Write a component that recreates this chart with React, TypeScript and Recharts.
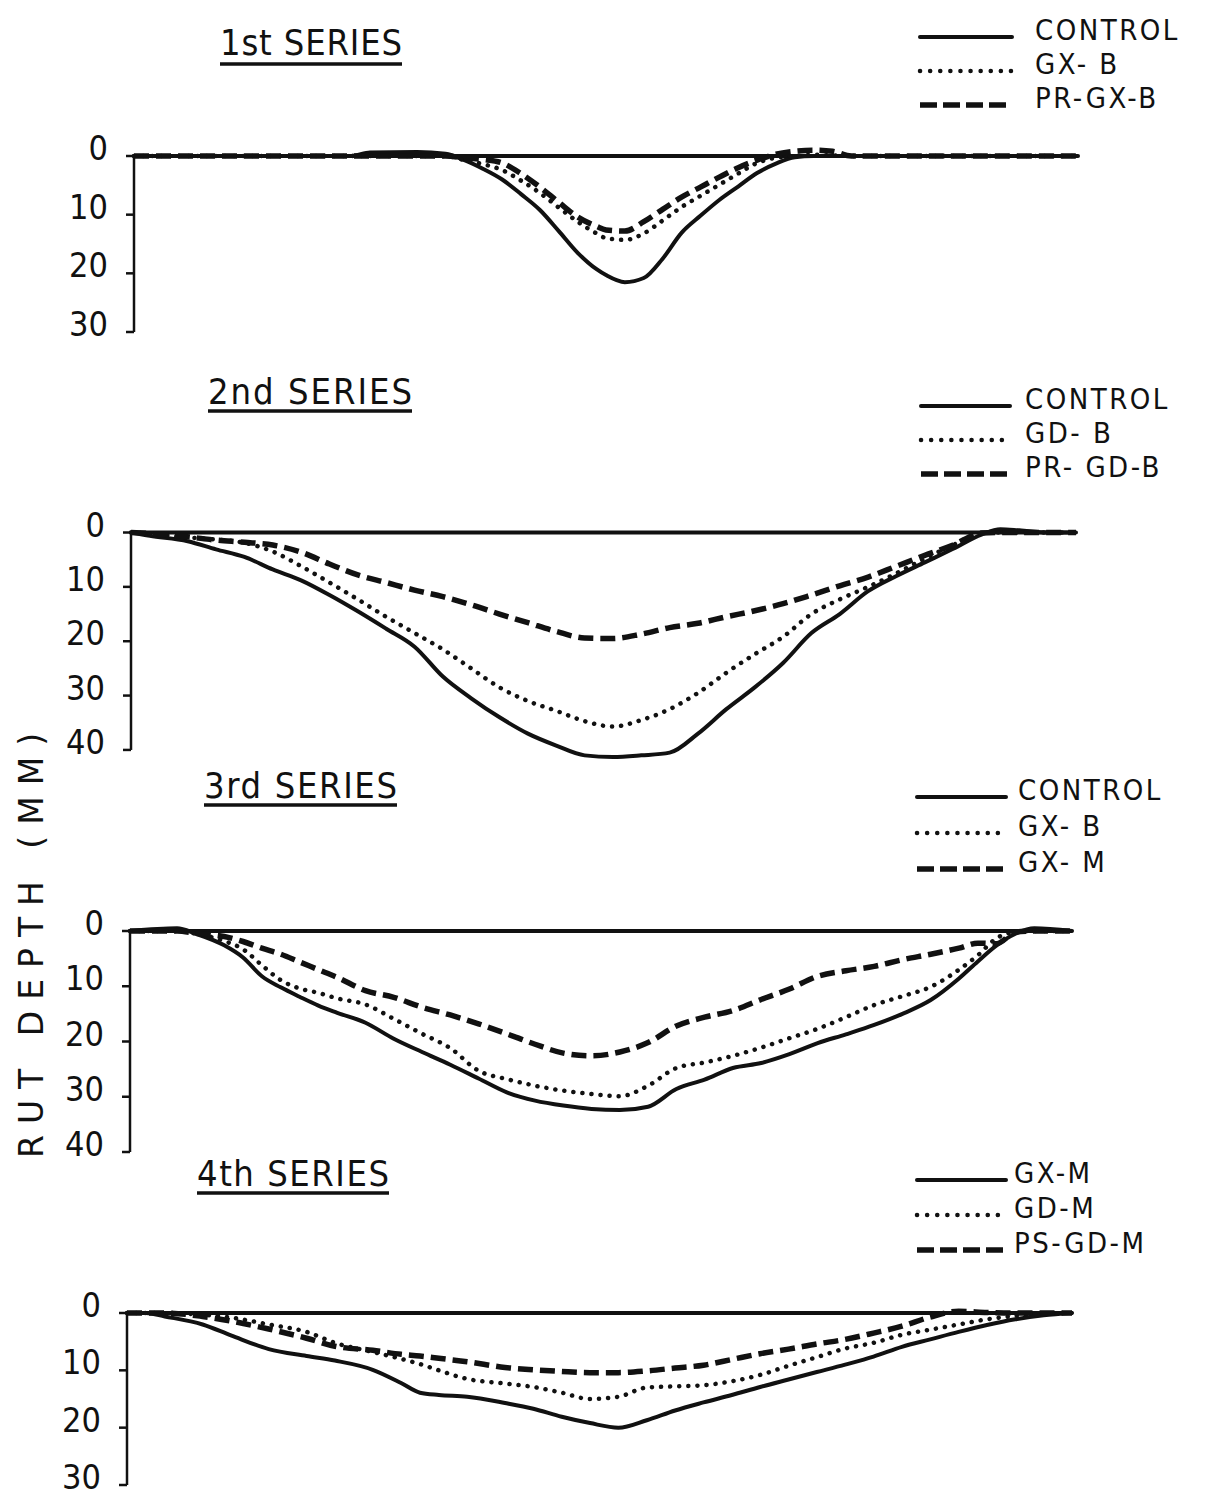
import React from "react";
import { LineChart, Line, XAxis, YAxis, ReferenceLine } from "recharts";

// distance across the wheel path (arbitrary units, axis = 0, end of profile = 100)
// depths in mm, negative = heave above the original surface

const p1Dist = [0, 23, 25, 30, 33, 35, 37, 39, 41, 43, 45, 47, 49, 50, 52, 54, 56, 58, 60, 62, 64, 66, 68, 70, 72, 74, 76, 100];
const p1Control = [0, 0, -0.6, -0.7, -0.4, 0.7, 2.2, 4, 6.5, 9.2, 12.8, 16.5, 19.3, 20.3, 21.5, 20.8, 17.5, 13.1, 10.2, 7.5, 5.2, 2.9, 1.3, 0.2, 0, 0, 0, 0];
const p1GxB = [0, 0, 0, 0, 0, 0.7, 1.4, 2.4, 4.2, 6.3, 8.8, 11.2, 13.2, 14, 14.3, 13.2, 11, 8.7, 6.8, 4.9, 3, 1.2, 0.3, 0, -0.2, -0.1, 0, 0];
const p1PrGxB = [0, 0, 0, 0, 0, 0.3, 0.6, 1.2, 3, 5.3, 7.9, 10.4, 12, 12.6, 12.8, 11.2, 9.1, 7, 5.3, 3.6, 2, 0.7, -0.3, -0.8, -1, -0.8, 0, 0];

const p2Dist = [0, 2, 6, 9, 12, 15, 18, 21, 24, 27, 30, 33, 36, 39, 42, 45, 48, 51, 54, 57, 60, 63, 66, 69, 72, 75, 78, 81, 84, 87, 90, 92, 94, 97, 100];
const p2Control = [0, 0.6, 1.6, 3.1, 4.5, 6.8, 8.8, 11.5, 14.5, 17.7, 21, 26.5, 30.5, 34, 37, 39.2, 41, 41.3, 41, 40.5, 37, 32.5, 28.5, 24, 18.5, 15, 10.8, 8, 5.5, 3, 0.4, -0.6, -0.4, 0, 0];
const p2GdB = [0, 0.2, 0.9, 1.3, 1.9, 3.5, 6.2, 9.2, 12.3, 15.5, 18.5, 21.5, 25, 28.5, 31, 32.8, 34.7, 35.7, 34.5, 32.5, 29.5, 25.8, 22.4, 19.2, 15, 12.3, 10, 7.5, 4.8, 2.3, 0.1, 0, 0, 0, 0];
const p2PrGdB = [0, 0.2, 0.8, 1.4, 1.8, 2.3, 3.6, 5.8, 7.8, 9.2, 10.6, 11.8, 13.3, 15, 16.6, 18.2, 19.4, 19.5, 18.7, 17.5, 16.7, 15.5, 14.4, 13.1, 11.5, 9.8, 8.2, 6.2, 4.2, 2.3, 0.1, 0, 0, 0, 0];

const p3Dist = [0, 5, 7, 10, 12, 14, 16, 18, 20, 22, 25, 28, 31, 34, 37, 40, 43, 46, 49, 52, 55, 58, 61, 64, 67, 70, 73, 76, 79, 82, 85, 88, 90, 92, 94, 96, 100];
const p3Control = [0, -0.5, 0.5, 2.6, 4.8, 8.2, 10.2, 11.9, 13.5, 14.8, 16.6, 19.5, 21.9, 24.2, 26.7, 29.2, 30.7, 31.6, 32.2, 32.4, 31.8, 28.6, 26.9, 24.8, 23.9, 22.3, 20.3, 18.7, 17, 15, 12.5, 8.6, 5.5, 2.6, 0.5, -0.5, 0];
const p3GxB = [0, 0, 0.5, 1.8, 3.3, 6.2, 8.9, 10.4, 11.2, 12.2, 13.3, 15.9, 18.6, 21.2, 25.3, 26.8, 28, 28.9, 29.5, 29.9, 28, 24.8, 23.8, 22.6, 21.1, 19.4, 17.7, 15.6, 13.4, 11.8, 10.1, 7, 4.4, 1.3, 0.2, 0, 0];
const p3GxM = [0, 0, 0.4, 1, 1.9, 3.1, 4.2, 5.6, 7, 8.4, 10.8, 12, 13.8, 15.2, 16.8, 18.6, 20.5, 22.1, 22.6, 21.9, 20.2, 17.2, 15.6, 14.4, 12.4, 10.5, 8.2, 7.2, 6.4, 5.2, 4.2, 3.1, 2.2, 2.3, 0.2, 0, 0];

const p4Dist = [0, 2, 4, 8, 11, 15, 19, 22, 26, 29, 31, 33, 36, 40, 43, 46, 49, 52, 55, 58, 61, 64, 67, 70, 73, 76, 79, 82, 85, 88, 91, 94, 97, 100];
const p4GxM = [0, 0, 0.6, 2, 3.9, 6.3, 7.5, 8.3, 9.9, 12.2, 13.9, 14.3, 14.6, 15.7, 16.7, 18.1, 19.2, 20, 18.7, 17, 15.6, 14.3, 12.9, 11.6, 10.3, 9, 7.6, 5.9, 4.6, 3.3, 2.1, 1.1, 0.4, 0];
const p4GdM = [0, 0, 0, 0.3, 0.8, 2, 3.3, 5.2, 6.8, 8, 8.9, 10, 11.5, 12.3, 12.9, 13.9, 15, 14.6, 13, 12.8, 12.6, 11.9, 10.8, 9.2, 7.7, 6.2, 5.2, 3.8, 2.9, 2, 1.1, 0.5, 0.1, 0];
const p4PsGdM = [0, 0, 0, 0.6, 1.4, 2.8, 4.4, 5.8, 6.5, 7.2, 7.5, 7.9, 8.5, 9.5, 9.9, 10.2, 10.4, 10.4, 10.1, 9.6, 9.1, 8.1, 7.1, 6.3, 5.4, 4.6, 3.5, 2.3, 0.7, -0.3, -0.1, 0, 0, 0];

const titles = ["1st SERIES", "2nd SERIES", "3rd SERIES", "4th SERIES"];
const legendNames = [
  ["CONTROL", "GX- B", "PR-GX-B"],
  ["CONTROL", "GD- B", "PR- GD-B"],
  ["CONTROL", "GX- B", "GX- M"],
  ["GX-M", "GD-M", "PS-GD-M"],
];
const p1Ticks = [0, 10, 20, 30];
const p2Ticks = [0, 10, 20, 30, 40];
const p3Ticks = [0, 10, 20, 30, 40];
const p4Ticks = [0, 10, 20, 30];

const FONT = '"DejaVu Sans Condensed", "Liberation Sans Narrow", "Liberation Sans", sans-serif';
const INK = "#111";

const zip = (dist: number[], a: number[], b: number[], c: number[]) =>
  dist.map((d, i) => ({ d, s0: a[i], s1: b[i], s2: c[i] }));

const panels = [
  { data: zip(p1Dist, p1Control, p1GxB, p1PrGxB), ticks: p1Ticks, top: 0, axisX: 134, endX: 1078, zeroY: 156, maxY: 332 },
  { data: zip(p2Dist, p2Control, p2GdB, p2PrGdB), ticks: p2Ticks, top: 360, axisX: 131, endX: 1076, zeroY: 533, maxY: 757 },
  { data: zip(p3Dist, p3Control, p3GxB, p3GxM), ticks: p3Ticks, top: 760, axisX: 130, endX: 1072, zeroY: 931, maxY: 1152 },
  { data: zip(p4Dist, p4GxM, p4GdM, p4PsGdM), ticks: p4Ticks, top: 1140, axisX: 127, endX: 1072, zeroY: 1313, maxY: 1485 },
];

// title / legend placement on the page
const titleBoxes = [
  { x: 220, base: 55, ux2: 402, uy: 64 },
  { x: 208, base: 404, ux2: 412, uy: 411 },
  { x: 204, base: 798, ux2: 397, uy: 805 },
  { x: 197, base: 1186, ux2: 389, uy: 1193 },
];
const legendBoxes = [
  { x1: 920, x2: 1012, tx: 1035, rows: [40, 74, 108] },
  { x1: 921, x2: 1010, tx: 1025, rows: [409, 443, 477] },
  { x1: 917, x2: 1006, tx: 1018, rows: [800, 836, 872] },
  { x1: 917, x2: 1006, tx: 1014, rows: [1183, 1218, 1253] },
];

const lineStyles = [
  { strokeWidth: 4, strokeDasharray: undefined, strokeLinecap: "round" as const },
  { strokeWidth: 4.5, strokeDasharray: "0.1 9", strokeLinecap: "round" as const },
  { strokeWidth: 5.5, strokeDasharray: "15 7", strokeLinecap: "butt" as const },
];
const legendDash = [undefined, "0.1 10", "17 6"];

const YW = 110;
const HEAVE = 3;

const DepthTick = (props: any) => {
  const { x, y, payload } = props;
  return (
    <text x={x} y={y + 4} textAnchor="end" fontFamily={FONT} fontSize={34} fill={INK}>
      {payload.value}
    </text>
  );
};

const Panel = ({ p }: { p: (typeof panels)[number] }) => {
  const max = p.ticks[p.ticks.length - 1];
  const ppu = (p.maxY - p.zeroY) / max;
  const height = p.maxY - p.top + 12;
  return (
    <div style={{ position: "absolute", left: 0, top: p.top }}>
      <LineChart
        width={1209}
        height={height}
        data={p.data}
        margin={{ top: p.zeroY - p.top - HEAVE * ppu, right: 1209 - p.endX, bottom: 12, left: p.axisX - YW }}
      >
        <XAxis type="number" dataKey="d" domain={[0, 100]} hide />
        <YAxis
          reversed
          width={YW}
          domain={[-HEAVE, max]}
          ticks={p.ticks}
          axisLine={false}
          tickSize={8}
          tickMargin={18}
          tickLine={{ stroke: INK, strokeWidth: 2.5 }}
          tick={<DepthTick />}
          interval={0}
        />
        <ReferenceLine y={0} stroke={INK} strokeWidth={4} />
        <ReferenceLine
          segment={[{ x: 0, y: 0 }, { x: 0, y: max }]}
          stroke={INK}
          strokeWidth={2.5}
          ifOverflow="visible"
        />
        {["s0", "s1", "s2"].map((k, i) => (
          <Line
            key={k}
            dataKey={k}
            type="monotone"
            stroke={INK}
            fill="none"
            dot={false}
            activeDot={false}
            isAnimationActive={false}
            {...lineStyles[i]}
          />
        ))}
      </LineChart>
    </div>
  );
};

export default function App() {
  return (
    <div style={{ position: "relative", width: 1209, height: 1497, background: "#fff", overflow: "hidden" }}>
      <style>{"body{margin:0}"}</style>
      {panels.map((p, i) => (
        <Panel key={i} p={p} />
      ))}
      <svg width={1209} height={1497} style={{ position: "absolute", left: 0, top: 0, pointerEvents: "none" }}>
        {titles.map((t, i) => {
          const b = titleBoxes[i];
          return (
            <g key={t}>
              <text
                x={b.x}
                y={b.base}
                fontFamily={FONT}
                fontSize={36}
                textLength={b.ux2 - b.x}
                lengthAdjust="spacing"
                fill={INK}
              >
                {t}
              </text>
              <line x1={b.x} x2={b.ux2} y1={b.uy} y2={b.uy} stroke={INK} strokeWidth={3.5} />
            </g>
          );
        })}
        {legendNames.map((names, i) => {
          const b = legendBoxes[i];
          return (
            <g key={i}>
              {names.map((n, j) => (
                <g key={n + j}>
                  <line
                    x1={b.x1}
                    x2={b.x2}
                    y1={b.rows[j] - 3}
                    y2={b.rows[j] - 3}
                    stroke={INK}
                    strokeWidth={lineStyles[j].strokeWidth}
                    strokeDasharray={legendDash[j]}
                    strokeLinecap={lineStyles[j].strokeLinecap}
                  />
                  <text x={b.tx} y={b.rows[j]} fontFamily={FONT} fontSize={29} letterSpacing={2.5} fill={INK}>
                    {n}
                  </text>
                </g>
              ))}
            </g>
          );
        })}
        <text
          transform="translate(43,940) rotate(-90)"
          textAnchor="middle"
          fontFamily='"DejaVu Sans", sans-serif'
          fontSize={33}
          letterSpacing={11}
          fill={INK}
        >
          RUT DEPTH (MM)
        </text>
      </svg>
    </div>
  );
}
